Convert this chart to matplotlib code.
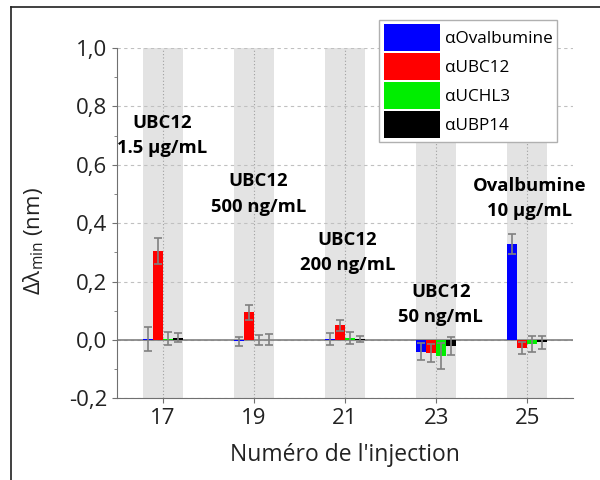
import numpy as np
import matplotlib.pyplot as plt
from matplotlib.lines import Line2D
from matplotlib.ticker import MultipleLocator, FuncFormatter

plt.rcParams['font.family'] = ['Open Sans', 'DejaVu Sans']

injections = [17, 19, 21, 23, 25]
series = ["\u03b1Ovalbumine", "\u03b1UBC12", "\u03b1UCHL3", "\u03b1UBP14"]
colors = ["#0000ff", "#ff0000", "#00ee00", "#000000"]

ovalbumine = [0.003, -0.005, 0.003, -0.040, 0.330]
ubc12 = [0.305, 0.095, 0.050, -0.045, -0.027]
uchl3 = [0.005, 0.000, 0.008, -0.055, -0.015]
ubp14 = [0.008, 0.001, 0.004, -0.020, -0.008]

err_ovalbumine = [0.042, 0.015, 0.020, 0.030, 0.034]
err_ubc12 = [0.045, 0.025, 0.020, 0.030, 0.021]
err_uchl3 = [0.022, 0.018, 0.020, 0.045, 0.027]
err_ubp14 = [0.015, 0.018, 0.010, 0.030, 0.022]

labels = ["UBC12\n1.5 \u00b5g/mL", "UBC12\n500 ng/mL", "UBC12\n200 ng/mL",
          "UBC12\n50 ng/mL", "Ovalbumine\n10 \u00b5g/mL"]
label_x = [17.0, 19.1, 21.05, 23.1, 25.05]
label_y = [0.70, 0.50, 0.30, 0.12, 0.485]

values = [ovalbumine, ubc12, uchl3, ubp14]
errors = [err_ovalbumine, err_ubc12, err_uchl3, err_ubp14]

fig = plt.figure(figsize=(6, 4.8), dpi=100)
ax = fig.add_axes([0.195, 0.17, 0.76, 0.73])

x = np.array(injections, dtype=float)
width = 0.22
offsets = [-1.5 * width, -0.5 * width, 0.5 * width, 1.5 * width]

# grey band behind each injection group
for xi in x:
    ax.axvspan(xi - 0.44, xi + 0.44, color="#e3e3e3", zorder=0, lw=0)

for vals, errs, col, name, off in zip(values, errors, colors, series, offsets):
    ax.bar(x + off, vals, width, color=col, label=name, zorder=3)
    ax.errorbar(x + off, vals, yerr=errs, fmt="none", ecolor="#808080",
                elinewidth=1.2, capsize=3, capthick=1.2, zorder=4)

ax.axhline(0, color="#808080", lw=1.2, zorder=2)

for lx, ly, txt in zip(label_x, label_y, labels):
    ax.text(lx, ly, txt, ha="center", va="center", fontsize=13.3,
            fontweight="bold", linespacing=1.5, zorder=5)

ax.set_xlim(16, 26)
ax.set_ylim(-0.2, 1.0)
ax.set_xticks(injections)
ax.yaxis.set_major_locator(MultipleLocator(0.2))
ax.yaxis.set_minor_locator(MultipleLocator(0.1))
ax.yaxis.set_major_formatter(FuncFormatter(lambda v, p: f"{v:.1f}".replace(".", ",")))

ax.grid(axis="y", which="major", linestyle=(0, (3, 3)), color="#c0c0c0", lw=0.8, zorder=1)
ax.grid(axis="x", which="major", linestyle=(0, (1, 2)), color="#a0a0a0", lw=0.8, zorder=1)

for side in ["top", "right"]:
    ax.spines[side].set_visible(False)
for side in ["left", "bottom"]:
    ax.spines[side].set_color("#707070")
ax.tick_params(axis="both", colors="#707070", labelcolor="#222222", labelsize=16)
ax.tick_params(axis="y", which="minor", length=2.5, colors="#707070")

ax.set_xlabel("Num\u00e9ro de l'injection", fontsize=16.5, color="#222222", labelpad=10)
ax.set_ylabel(r"$\mathregular{\Delta\lambda_{min}}$ (nm)", fontsize=16, color="#222222", labelpad=6)
ax.yaxis.set_label_coords(-0.155, 0.45)

leg = ax.legend(loc="upper right", bbox_to_anchor=(0.965, 1.08), fontsize=12.3,
                handlelength=3.3, handleheight=2.05, labelspacing=0.12,
                borderpad=0.25, handletextpad=0.3, borderaxespad=0,
                fancybox=False, framealpha=1)
leg.get_frame().set_edgecolor("#b0b0b0")

# outer frame lines
fig.add_artist(Line2D([0.018, 1.0], [0.985, 0.985], color="#202020", lw=1.2))
fig.add_artist(Line2D([0.018, 0.018], [0.0, 0.985], color="#202020", lw=1.2))

fig.savefig("out.png", dpi=100)
